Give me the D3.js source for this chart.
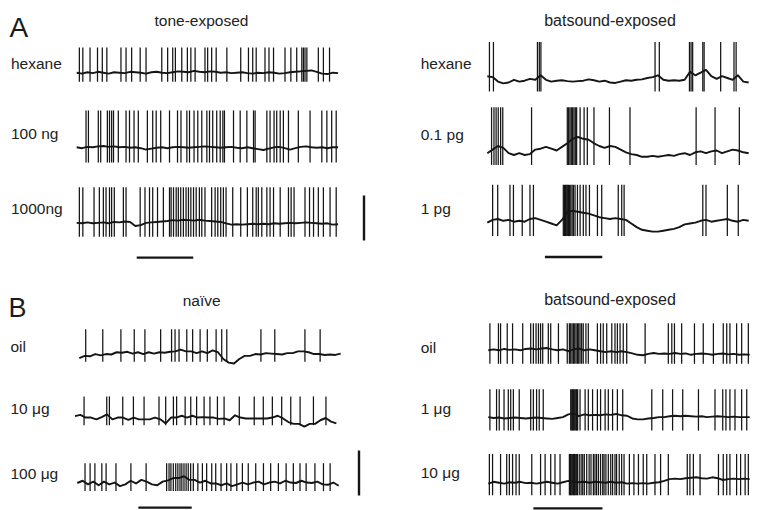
<!DOCTYPE html>
<html><head><meta charset="utf-8">
<script src="https://cdn.jsdelivr.net/npm/d3@7"></script>
<style>body{margin:0;background:#fff}svg{display:block}</style>
</head><body><svg id="c" width="768" height="510"></svg>
<script>
// ---------- DATA (times in s, membrane potential in mV relative to rest) ----------
const panelTitles = ["tone-exposed", "batsound-exposed", "naïve", "batsound-exposed"];
const panelLetters = ["A", "B"];
const traceLabels = ["hexane", "100 ng", "1000ng", "hexane", "0.1 pg", "1 pg",
                     "oil", "10 μg", "100 μg", "oil", "1 μg", "10 μg"];
const spikePeakMv   = [28, 41, 40, 43, 53, 41, 30, 24, 22, 30, 32, 32];
const spikeTroughMv = [-10, -17, -15, -12, -11, -16, -6, -8, -9, -15, -14, -14];
const sampleInterval = 0.2;   // s between Vm samples
const sweepDur = 9.8;         // s
const scaleBarMv = 50;
// horizontal scale bars per panel: [start s, length s]
const timeBars = [[2.25, 2.12], [2.16, 2.15], [2.29, 2.0], [1.69, 2.59]];

// A, tone-exposed
const toneHexaneSpikes = [0.10,0.23,0.50,0.78,0.96,1.13,1.66,1.85,2.06,2.38,2.60,3.19,3.41,3.60,3.70,3.94,4.15,4.28,4.44,4.81,4.91,5.06,5.23,5.63,6.15,6.44,6.60,6.73,7.06,7.21,7.38,7.81,8.03,8.25,8.44,8.50,8.56,8.63,9.06,9.25,9.48];
const toneHexaneVm = [0,-1,0.5,-0.5,1,0,-1,0.5,0,-0.5,1,0.5,0,-1,0.5,1,0,-0.5,0.5,1.5,1,0.5,2,1,0.5,1.5,1,0,0.5,-0.5,0,0.5,-0.5,-1,0,-0.5,0.5,0,-1,-0.5,0.5,1,1.5,2,2.5,1,-1,-1.5,0,-0.5];
const tone100Spikes = [0.35,0.44,0.81,0.90,1.15,1.23,1.31,1.38,1.56,1.85,1.98,2.15,2.31,2.65,2.85,2.98,3.15,3.48,3.78,3.91,4.13,4.23,4.40,4.54,4.69,4.88,4.98,5.10,5.25,5.38,5.48,5.54,5.88,6.13,6.38,6.63,6.69,7.13,7.25,7.40,7.50,7.63,7.75,7.94,8.31,8.75,9.19,9.38,9.56,9.73];
const tone100Vm = [0,-1,0.5,0,1,1.5,0.5,1,0,0.5,-0.5,0,-1,-2.5,-1.5,-0.5,0,-1,0,0.5,0,-0.5,0,0.5,1,0.5,0,-0.5,0,0.5,-0.5,-1,0,-1,-2,-3,-1.5,0,0.5,-1,-2.5,-1,0.5,1,0,-0.5,0,-1,0,0];
const tone1000Spikes = [0.10,0.23,0.65,0.85,1.00,1.10,1.23,1.31,1.41,1.75,1.85,2.38,2.56,2.73,2.85,3.03,3.25,3.48,3.54,3.63,3.73,3.81,3.90,4.00,4.10,4.19,4.28,4.38,4.48,4.60,4.69,4.81,5.06,5.19,5.29,5.40,5.50,5.60,5.85,6.15,6.40,6.60,6.73,6.81,6.94,7.13,7.25,7.38,7.63,7.94,8.04,8.15,8.56,8.73,8.88,9.06,9.25,9.50,9.73];
const tone1000Vm = [0.5,0,1,0,0.5,1,0,1.5,1,2,1.5,-3,-2,0.5,1,1.5,2,2.5,3.5,3,4,3.5,3,4,3,2.5,2,1.5,0,-1.5,-1,-1.5,-1,-0.5,-1,-0.5,-1,0,-0.5,0,0.5,0,0.5,1,0.5,0,-0.5,0,-1.5,-1];
// A, batsound-exposed
const batHexaneSpikes = [0.08,0.23,1.88,1.95,2.01,6.29,6.45,7.58,7.64,7.70,8.08,8.13,8.75,9.25,9.33];
const batHexaneVm = [5,4,-1,-3,-2,1,-1,0,2,1,6,1,-1,0,0.5,-0.5,-1,-0.5,0,1.5,0.5,-1,0,-2,-2.5,-1,0.5,0,1,1.5,3,4,6,1,0,0.5,0,1,10,6,9,12,5,2,5,3,1,6,-1,-2];
const bat01pgSpikes = [0.16,0.25,0.33,0.41,0.50,0.58,1.66,3.00,3.05,3.10,3.15,3.20,3.25,3.30,3.35,3.48,3.63,3.75,4.00,4.58,5.35,7.83,8.54,9.45];
const bat01pgVm = [2,6,10,8,2,0,2,0,1,6,7,9,7,5,9,13,18,20,18,17,13,10,8,10,9,6,3,1,0,-2,-2,-1,-2,-1,0,-1,1,2,0,3,4,2,4,5,2,4,6,5,3,2];
const bat1pgSpikes = [0.20,0.39,0.85,0.98,1.31,1.60,1.73,2.85,2.89,2.93,2.96,3.00,3.04,3.08,3.13,3.18,3.23,3.29,3.38,3.48,3.60,3.70,3.83,4.13,4.29,4.91,5.04,5.13,8.08,8.20,9.00,9.41];
const bat1pgVm = [-1,2,3,1,2,0,1,0,3,4,2,0,-2,-4,2,11,12,11,10,9,7,5,4,3,4,3,2,-2,-6,-9,-10,-11,-11,-10,-9,-8,-6,-3,-2,-1,1,2,0,1,2,3,1,0,2,1];
// B, naive
const naiveOilSpikes = [0.24,0.88,1.56,2.06,2.46,3.05,3.46,3.59,3.74,4.03,4.25,4.53,4.80,5.13,5.34,5.53,6.81,7.33,8.46,9.03];
const naiveOilVm = [-2,0.5,0,2.5,1,2.5,2,4.5,4,5,3,4.5,2.5,4.5,3,4.5,4,5,5.5,7.5,5.5,5.5,3.5,5.5,3.5,6.5,4.5,-3,-7,-8,-3,0.5,0.5,2.5,2,3.5,3,2.5,2,3.5,3.5,5.5,5.5,4.5,2.5,2.5,1.5,2,1.5,3];
const naive10Spikes = [0.34,1.19,1.29,1.79,2.19,2.59,3.15,3.40,3.69,3.81,4.13,4.34,4.56,4.84,5.06,5.34,5.59,6.16,6.72,7.06,7.40,7.75,8.09,8.44,8.94,9.41];
const naive10Vm = [2,3.5,0.5,0.5,-1.5,1,4,-1.5,0.5,0.5,-2,0.5,-1.5,-1.5,-1.5,0.5,-1.5,-6,0.5,0.5,2.5,0.5,2.5,0.5,1,0.5,0.5,-1,-0.5,-2.5,3,0.5,-0.5,-0.5,-0.5,-0.5,-0.5,0.5,2.5,-0.5,-4.5,-6.5,-6.5,-9.5,-6.5,-6.5,-2.5,0,-4,-6];
const naive100Spikes = [0.29,0.48,0.66,0.92,1.08,1.45,2.01,2.58,3.35,3.44,3.51,3.60,3.69,3.77,3.85,3.92,4.00,4.08,4.16,4.25,4.35,4.52,4.69,4.85,5.04,5.19,5.39,5.60,5.76,5.98,6.19,6.41,6.69,6.98,7.25,7.54,7.83,8.10,8.35,8.58,8.91,9.23,9.48];
const naive100Vm = [0,2.5,-1.5,1.5,-2.5,1.5,-1.5,0.5,-3.5,-1.5,2.5,-0.5,3.5,1.5,-1.5,-2.5,1.5,3,5.5,5.5,7.5,3.5,3.5,0.5,2.5,-0.5,-0.5,-2.5,-0.5,-3.5,-1.5,0.5,-1.5,0.5,1.5,-1.5,0.5,1.5,-0.5,2.5,0.5,0,2.5,0.5,0,1.5,-1.5,-2,0.5,-3];
// B, batsound-exposed
const batOilSpikes = [0.06,0.38,0.46,0.71,0.91,1.29,1.59,1.69,1.79,1.88,1.96,2.04,2.25,2.34,2.63,2.96,3.04,3.09,3.14,3.19,3.24,3.29,3.34,3.39,3.44,3.50,3.56,3.66,3.75,4.09,4.21,4.31,4.44,4.63,4.75,4.84,4.94,5.06,5.19,5.88,6.75,6.88,6.98,7.25,7.73,8.06,8.44,8.81,8.94,9.06,9.31,9.50,9.75];
const batOilVm = [0,1,0,1.5,0.5,1,0,1.5,2,1,2,2.5,1,0,1,-1,1,2,0,1,0,-1,-2,-1,-2,-1,-2,-3.5,-5,-5.5,-4,-3,-4,-3.5,-4,-3,-4,-3.5,-5,-4,-3.5,-4,-5,-4,-3.5,-4.5,-4,-5,-4.5,-5];
const bat1ugSpikes = [0.06,0.31,0.41,0.59,0.75,0.84,0.94,1.16,1.59,1.69,1.81,1.91,2.06,3.09,3.13,3.16,3.20,3.24,3.28,3.31,3.35,3.44,3.63,3.75,3.91,4.09,4.21,4.38,4.50,4.66,4.84,5.04,6.13,6.54,6.91,7.29,7.88,8.50,8.79,8.91,9.06,9.25,9.50,9.69];
const bat1ugVm = [1,0,0.5,-0.5,0,0.5,0,-0.5,0,0.5,0,-0.5,-1,0,1,4,5,2,4,3,3.5,3,4,3.5,4.5,3,2.5,-0.5,-1.5,-1.5,-0.5,0,1,1,2,2.5,2,2.5,2,1.5,2,1,1.5,2,1.5,1,1.5,1,1,1];
const bat10ugSpikes = [0.04,0.16,0.46,0.69,0.79,0.91,1.04,1.16,1.63,1.96,2.13,2.34,2.50,2.69,
  3.04,3.08,3.11,3.15,3.19,3.23,3.26,3.30,3.34,3.41,3.48,3.54,3.60,3.69,3.78,3.85,3.94,4.00,4.06,4.13,4.21,4.29,4.34,4.41,4.50,4.59,4.66,4.75,4.81,4.91,5.00,5.09,
  5.29,5.46,5.63,5.81,5.94,6.25,6.46,6.75,7.46,7.56,7.69,7.94,8.63,8.81,8.94,9.06,9.31,9.46,9.63,9.75];
const bat10ugVm = [-1,1,0,-1,0.5,0,1,-0.5,0,-1,0,1,0,-1,0.5,2,1,0.5,1,0,1,0.5,0,1,0,0.5,-1,-0.5,-1,-0.5,-1,0,0.5,2,4,4.5,4,5,5.5,6,5,4.5,6,5,3,4,4.5,4,4.5,4];

const traceSpikes = [toneHexaneSpikes, tone100Spikes, tone1000Spikes, batHexaneSpikes, bat01pgSpikes, bat1pgSpikes,
                     naiveOilSpikes, naive10Spikes, naive100Spikes, batOilSpikes, bat1ugSpikes, bat10ugSpikes];
const traceVm = [toneHexaneVm, tone100Vm, tone1000Vm, batHexaneVm, bat01pgVm, bat1pgVm,
                 naiveOilVm, naive10Vm, naive100Vm, batOilVm, bat1ugVm, bat10ugVm];

// ---------- LAYOUT ----------
const FONT = "'Liberation Sans', Arial, Helvetica, sans-serif";
const INK = "#151515";
const pxPerSec = 26.67, pxPerMv = 0.9;
// per trace: trace origin x, 0 mV y, label x, label baseline y
const traceLayout = [
  [76.7, 72.7, 11, 68.5], [76.7, 147.3, 11, 139], [76.7, 223.3, 11, 214],
  [487.3, 80.7, 420.7, 69], [487.3, 155, 420.7, 140], [487.3, 221.7, 420.7, 214],
  [79.3, 356.3, 10.5, 351.7], [75, 418, 10.5, 414], [77.3, 483, 10.5, 479],
  [488.3, 350.3, 420.7, 353], [488.3, 418, 420.7, 414], [488.3, 482.7, 420.7, 478]
];
const titleLayout = [[201.5, 26, 15.5], [610, 26, 16], [201.7, 306, 15.5], [610, 305, 16]];
const letterLayout = [[9.5, 36.7, 28], [8.5, 317, 27]];
const timeBarLayout = [[76.7, 257.7], [487.3, 257], [77.3, 507.7], [488.3, 508.3]];
const mvBarLayout = [[364, 218], [359, 473]];

const svg = d3.select("#c");
svg.append("rect").attr("width", 768).attr("height", 510).attr("fill", "#fff");

const traces = traceLabels.map((label, i) => ({
  label, spikes: traceSpikes[i], vm: traceVm[i],
  peak: spikePeakMv[i], trough: spikeTroughMv[i],
  x0: traceLayout[i][0], y0: traceLayout[i][1], lx: traceLayout[i][2], ly: traceLayout[i][3]
}));

traces.forEach(tr => {
  const x = d3.scaleLinear().domain([0, sweepDur]).range([tr.x0, tr.x0 + sweepDur * pxPerSec]);
  const y = d3.scaleLinear().domain([-50, 50]).range([tr.y0 + 50 * pxPerMv, tr.y0 - 50 * pxPerMv]);
  const g = svg.append("g");
  g.append("path").datum(tr.vm)
    .attr("d", d3.line().x((d, i) => x(i * sampleInterval)).y(d => y(d)))
    .attr("fill", "none").attr("stroke", INK).attr("stroke-width", 1.9)
    .attr("stroke-linejoin", "round");
  g.selectAll("line.spike").data(tr.spikes).join("line").attr("class", "spike")
    .attr("x1", d => x(d)).attr("x2", d => x(d))
    .attr("y1", y(tr.peak)).attr("y2", y(tr.trough))
    .attr("stroke", INK).attr("stroke-width", 1.25);
  svg.append("text").attr("x", tr.lx).attr("y", tr.ly).text(tr.label)
    .attr("font-family", FONT).attr("font-size", 15.5).attr("fill", "#222");
});

panelTitles.forEach((t, i) => {
  svg.append("text").attr("x", titleLayout[i][0]).attr("y", titleLayout[i][1])
    .attr("text-anchor", "middle").attr("font-family", FONT)
    .attr("font-size", titleLayout[i][2]).attr("fill", "#222").text(t);
});
panelLetters.forEach((t, i) => {
  svg.append("text").attr("x", letterLayout[i][0]).attr("y", letterLayout[i][1])
    .attr("font-family", FONT).attr("font-size", letterLayout[i][2]).attr("fill", "#1a1a1a").text(t);
});

timeBars.forEach((b, i) => {
  const x = d3.scaleLinear().domain([0, sweepDur]).range([timeBarLayout[i][0], timeBarLayout[i][0] + sweepDur * pxPerSec]);
  svg.append("line").attr("x1", x(b[0])).attr("x2", x(b[0] + b[1]))
    .attr("y1", timeBarLayout[i][1]).attr("y2", timeBarLayout[i][1])
    .attr("stroke", INK).attr("stroke-width", 2.3);
});
mvBarLayout.forEach(m => {
  const y = d3.scaleLinear().domain([-scaleBarMv / 2, scaleBarMv / 2]).range([m[1] + scaleBarMv / 2 * pxPerMv, m[1] - scaleBarMv / 2 * pxPerMv]);
  svg.append("line").attr("x1", m[0]).attr("x2", m[0])
    .attr("y1", y(-scaleBarMv / 2)).attr("y2", y(scaleBarMv / 2))
    .attr("stroke", INK).attr("stroke-width", 2.4);
});
</script></body></html>
